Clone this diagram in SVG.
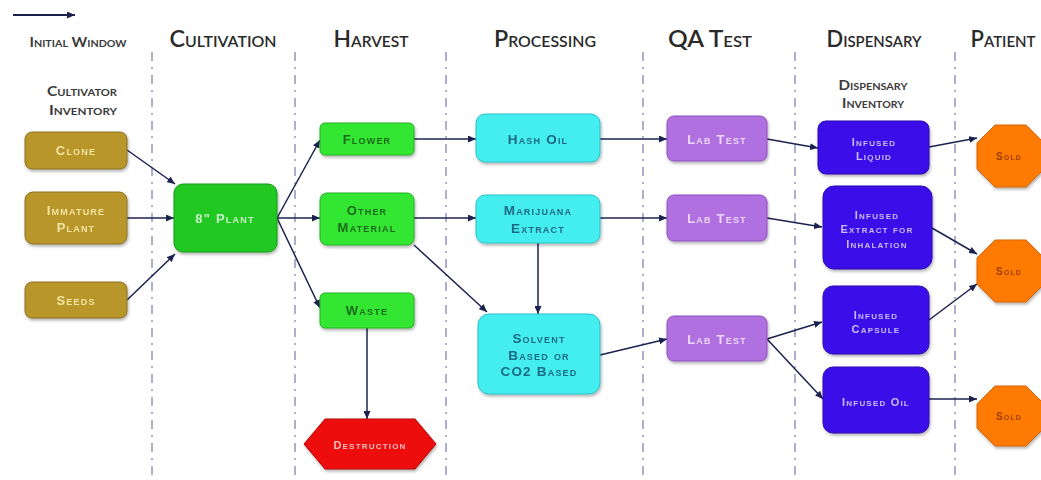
<svg xmlns="http://www.w3.org/2000/svg" width="1041" height="480" viewBox="0 0 1041 480">
<style>
.hdr{font-family:Lato,"Open Sans",sans-serif;font-variant:small-caps;font-size:22px;font-weight:600;fill:#2a2a2a;text-anchor:middle}
.sub{font-family:Lato,"Open Sans",sans-serif;font-variant:small-caps;font-weight:bold;font-size:14px;fill:#3a3a3a;text-anchor:middle}
.sep{stroke:#9494c0;stroke-width:1.5;stroke-dasharray:9 6 2 6;fill:none}
.lbl{font-family:"Liberation Sans",Arial,sans-serif;font-variant:small-caps;font-weight:bold;letter-spacing:1.2px;text-anchor:middle}
.olive rect{fill:#b8962a;stroke:#8c7220;stroke-width:1}
.olive text{fill:#f2e4a2;font-size:13px}
.plant rect{fill:#22c822;stroke:#1a9a1a}
.plant text{fill:#c8f5c8;font-size:13px}
.green rect{fill:#33e633;stroke:#22b022}
.green text{fill:#1c6a1c;font-size:13px}
.red polygon{fill:#ee1111;stroke:#b00000}
.red text{fill:#ffbdbd;font-size:11px}
.cyan rect{fill:#44eeee;stroke:#2cc0c8}
.cyan text{fill:#1d6a84;font-size:13.5px}
.purple rect{fill:#b070e0;stroke:#8c50c0}
.purple text{fill:#ecd6ff;font-size:13px}
.blue rect{fill:#3a10e8;stroke:#2a08b0}
.blue text{fill:#c8baff;font-size:11px}
.orange polygon{fill:#ff7a00;stroke:#d86400}
.orange text{fill:#9a3e00;font-size:10px}
.conn line{stroke:#1c2250;stroke-width:1.5;marker-end:url(#ah)}
</style>
<defs>
<marker id="ah" markerUnits="userSpaceOnUse" markerWidth="8" markerHeight="7" refX="8" refY="3.5" orient="auto">
<path d="M0,0 L8,3.5 L0,7 z" fill="#1c2250"/>
</marker>
<filter id="sh" x="-10%" y="-10%" width="125%" height="130%">
<feDropShadow dx="1" dy="2" stdDeviation="1.5" flood-color="#000" flood-opacity="0.3"/>
</filter>
</defs>
<rect width="1041" height="480" fill="#fff"/>

<g id="legend">
<line x1="13" y1="15" x2="75" y2="15" stroke="#1c2250" stroke-width="1.8" marker-end="url(#ah)"/>
</g>

<g id="headers">
<text class="sub" x="78" y="47" textLength="97" lengthAdjust="spacingAndGlyphs">Initial Window</text>
<text class="hdr" x="223" y="47" textLength="107" lengthAdjust="spacingAndGlyphs">Cultivation</text>
<text class="hdr" x="371" y="47" textLength="75" lengthAdjust="spacingAndGlyphs">Harvest</text>
<text class="hdr" x="545" y="47" textLength="102" lengthAdjust="spacingAndGlyphs">Processing</text>
<text class="hdr" x="710" y="47" textLength="84" lengthAdjust="spacingAndGlyphs">QA Test</text>
<text class="hdr" x="874" y="47" textLength="95" lengthAdjust="spacingAndGlyphs">Dispensary</text>
<text class="hdr" x="1003" y="47" textLength="65" lengthAdjust="spacingAndGlyphs">Patient</text>
<text class="sub" x="82" y="96" textLength="70" lengthAdjust="spacingAndGlyphs">Cultivator</text>
<text class="sub" x="83" y="115" textLength="68" lengthAdjust="spacingAndGlyphs">Inventory</text>
<text class="sub" x="873" y="90" textLength="69" lengthAdjust="spacingAndGlyphs">Dispensary</text>
<text class="sub" x="873" y="108" textLength="62" lengthAdjust="spacingAndGlyphs">Inventory</text>
</g>

<g id="separators">
<line class="sep" x1="152" y1="52" x2="152" y2="476"/>
<line class="sep" x1="295" y1="52" x2="295" y2="476"/>
<line class="sep" x1="446" y1="52" x2="446" y2="476"/>
<line class="sep" x1="643" y1="52" x2="643" y2="476"/>
<line class="sep" x1="795" y1="52" x2="795" y2="476"/>
<line class="sep" x1="955" y1="52" x2="955" y2="476"/>
</g>

<g id="connectors" class="conn">
<line x1="127" y1="150" x2="175" y2="184"/>
<line x1="127" y1="218" x2="174" y2="218"/>
<line x1="127" y1="300" x2="175" y2="254"/>
<line x1="277" y1="218" x2="320" y2="140"/>
<line x1="277" y1="218" x2="320" y2="218"/>
<line x1="277" y1="218" x2="320" y2="308"/>
<line x1="414" y1="139" x2="476" y2="139"/>
<line x1="414" y1="218" x2="476" y2="218"/>
<line x1="414" y1="245" x2="487" y2="312"/>
<line x1="538" y1="243" x2="538" y2="314"/>
<line x1="367" y1="328" x2="367" y2="419"/>
<line x1="600" y1="139" x2="667" y2="139"/>
<line x1="600" y1="218" x2="667" y2="218"/>
<line x1="600" y1="355" x2="667" y2="339"/>
<line x1="767" y1="139" x2="818" y2="148"/>
<line x1="767" y1="218" x2="822" y2="227"/>
<line x1="767" y1="339" x2="822" y2="322"/>
<line x1="767" y1="339" x2="823" y2="399"/>
<line x1="929" y1="147" x2="977" y2="138"/>
<line x1="932" y1="228" x2="977" y2="254"/>
<line x1="929" y1="320" x2="977" y2="284"/>
<line x1="929" y1="399" x2="977" y2="399"/>
</g>

<g id="clone" class="olive" filter="url(#sh)"><rect x="25" y="132" width="102" height="37" rx="7"/><text class="lbl" x="76" y="155">Clone</text></g>
<g id="immature-plant" class="olive" filter="url(#sh)"><rect x="25" y="192" width="102" height="52" rx="8"/><text class="lbl" x="76" y="215">Immature</text><text class="lbl" x="76" y="232">Plant</text></g>
<g id="seeds" class="olive" filter="url(#sh)"><rect x="25" y="282" width="102" height="36" rx="7"/><text class="lbl" x="76" y="305">Seeds</text></g>

<g id="plant-8" class="plant" filter="url(#sh)"><rect x="174" y="184" width="103" height="68" rx="9"/><text class="lbl" x="225" y="223">8" Plant</text></g>

<g id="flower" class="green" filter="url(#sh)"><rect x="320" y="123" width="94" height="32" rx="5"/><text class="lbl" x="367" y="144">Flower</text></g>
<g id="other-material" class="green" filter="url(#sh)"><rect x="320" y="193" width="94" height="52" rx="7"/><text class="lbl" x="367" y="215">Other</text><text class="lbl" x="367" y="232">Material</text></g>
<g id="waste" class="green" filter="url(#sh)"><rect x="320" y="293" width="94" height="35" rx="5"/><text class="lbl" x="367" y="315">Waste</text></g>

<g id="destruction" class="red" filter="url(#sh)"><polygon points="325,419 415,419 436,444 415,469 325,469 304,444"/><text class="lbl" x="370" y="449">Destruction</text></g>

<g id="hash-oil" class="cyan" filter="url(#sh)"><rect x="476" y="114" width="124" height="48" rx="9"/><text class="lbl" x="538" y="144">Hash Oil</text></g>
<g id="marijuana-extract" class="cyan" filter="url(#sh)"><rect x="476" y="195" width="124" height="48" rx="9"/><text class="lbl" x="538" y="215">Marijuana</text><text class="lbl" x="538" y="233">Extract</text></g>
<g id="solvent" class="cyan" filter="url(#sh)"><rect x="478" y="314" width="122" height="80" rx="11"/><text class="lbl" x="539" y="343">Solvent</text><text class="lbl" x="539" y="360">Based or</text><text class="lbl" x="539" y="376">CO2 Based</text></g>

<g id="lab-test-1" class="purple" filter="url(#sh)"><rect x="667" y="116" width="100" height="45" rx="7"/><text class="lbl" x="717" y="144">Lab Test</text></g>
<g id="lab-test-2" class="purple" filter="url(#sh)"><rect x="667" y="195" width="100" height="46" rx="7"/><text class="lbl" x="717" y="223">Lab Test</text></g>
<g id="lab-test-3" class="purple" filter="url(#sh)"><rect x="667" y="316" width="100" height="45" rx="7"/><text class="lbl" x="717" y="344">Lab Test</text></g>

<g id="infused-liquid" class="blue" filter="url(#sh)"><rect x="818" y="121" width="111" height="53" rx="8"/><text class="lbl" x="874" y="146">Infused</text><text class="lbl" x="874" y="160">Liquid</text></g>
<g id="infused-extract" class="blue" filter="url(#sh)"><rect x="823" y="186" width="109" height="83" rx="11"/><text class="lbl" x="877" y="219">Infused</text><text class="lbl" x="877" y="233">Extract for</text><text class="lbl" x="877" y="248">Inhalation</text></g>
<g id="infused-capsule" class="blue" filter="url(#sh)"><rect x="823" y="286" width="106" height="68" rx="10"/><text class="lbl" x="876" y="319">Infused</text><text class="lbl" x="876" y="333">Capsule</text></g>
<g id="infused-oil" class="blue" filter="url(#sh)"><rect x="823" y="367" width="106" height="66" rx="10"/><text class="lbl" x="876" y="406">Infused Oil</text></g>

<g id="sold-1" class="orange" filter="url(#sh)"><polygon points="995,125 1026,125 1044,143 1044,169 1026,187 995,187 977,169 977,143"/><text class="lbl" x="1009" y="160">Sold</text></g>
<g id="sold-2" class="orange" filter="url(#sh)"><polygon points="995,240 1026,240 1044,258 1044,284 1026,302 995,302 977,284 977,258"/><text class="lbl" x="1009" y="275">Sold</text></g>
<g id="sold-3" class="orange" filter="url(#sh)"><polygon points="995,386 1026,386 1044,404 1044,428 1026,446 995,446 977,428 977,404"/><text class="lbl" x="1009" y="420">Sold</text></g>
</svg>
